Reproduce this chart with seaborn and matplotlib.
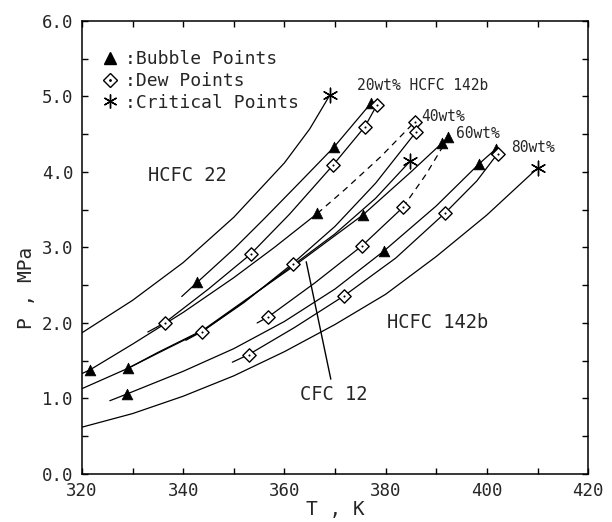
import matplotlib
matplotlib.use("Agg")
import matplotlib.pyplot as plt
from matplotlib.lines import Line2D
import seaborn as sns

# vapour pressure curves (T in K, P in MPa)
hcfc22_T = [320, 330, 340, 350, 360, 365, 369.0]
hcfc22_P = [1.87, 2.30, 2.80, 3.40, 4.12, 4.57, 5.02]
cfc12_T = [320, 329.1, 335, 344, 352, 362, 370, 378, 384.8]
cfc12_P = [1.13, 1.40, 1.60, 1.90, 2.28, 2.78, 3.18, 3.65, 4.14]
hcfc142b_T = [320, 330, 340, 350, 360, 370, 380, 390, 400, 410.0]
hcfc142b_P = [0.62, 0.80, 1.03, 1.30, 1.62, 1.98, 2.38, 2.88, 3.43, 4.05]

# HCFC 22 + HCFC 142b mixtures: bubble and dew curves
w20_bub_T = [339.7, 342.8, 350, 356, 363, 369.8, 377.1]
w20_bub_P = [2.35, 2.54, 2.98, 3.38, 3.86, 4.33, 4.91]
w20_dew_T = [333.0, 336.3, 345, 353.3, 361, 369.6, 375.9, 378.3]
w20_dew_P = [1.88, 2.00, 2.45, 2.91, 3.44, 4.09, 4.60, 4.89]
w40_bub_T = [320, 321.6, 330, 340, 350, 358, 366.5]
w40_bub_P = [1.33, 1.38, 1.72, 2.14, 2.60, 3.00, 3.45]
w40_bub_ext_T = [366.5, 372, 379, 385.7]
w40_bub_ext_P = [3.45, 3.77, 4.20, 4.66]
w40_dew_T = [340.5, 343.8, 352, 361.7, 370, 378, 386.0, 385.7]
w40_dew_P = [1.77, 1.89, 2.27, 2.79, 3.28, 3.85, 4.53, 4.66]
w60_bub_T = [329.1, 335, 344, 352, 362, 375.5, 385, 391.1, 392.4]
w60_bub_P = [1.40, 1.61, 1.91, 2.29, 2.76, 3.43, 4.00, 4.38, 4.46]
w60_dew_T = [354.6, 356.8, 366, 375.3, 383.4]
w60_dew_P = [2.00, 2.08, 2.53, 3.02, 3.53]
w60_dew_ext_T = [383.4, 388, 392.4]
w60_dew_ext_P = [3.53, 3.97, 4.46]
w80_bub_T = [325.5, 328.9, 340, 350, 360, 370, 379.6, 390, 398.5, 401.7]
w80_bub_P = [0.97, 1.06, 1.36, 1.66, 2.02, 2.45, 2.95, 3.55, 4.11, 4.30]
w80_dew_T = [349.7, 352.9, 362, 371.8, 382, 391.8, 398, 402.1]
w80_dew_P = [1.48, 1.58, 1.94, 2.36, 2.86, 3.46, 3.88, 4.24]

# measured points
bubble_T = [321.6, 329.1, 328.9, 342.8, 366.5, 369.8, 377.1, 375.5, 379.6,
            391.1, 392.4, 398.5, 401.7]
bubble_P = [1.38, 1.40, 1.06, 2.54, 3.45, 4.33, 4.91, 3.43, 2.95,
            4.38, 4.46, 4.11, 4.30]
dew_T = [336.3, 343.8, 352.9, 356.8, 361.7, 371.8, 353.3, 369.6, 375.9,
         378.3, 385.7, 386.0, 375.3, 383.4, 391.8, 402.1]
dew_P = [2.00, 1.88, 1.58, 2.08, 2.78, 2.36, 2.91, 4.09, 4.60,
         4.89, 4.66, 4.53, 3.02, 3.53, 3.46, 4.24]
crit_T = [369.0, 384.8, 410.0]
crit_P = [5.02, 4.14, 4.05]

sns.set_theme(style="ticks")
plt.rcParams["font.family"] = ["DejaVu Sans Mono"]

fig = plt.figure(figsize=(6.12, 5.22), dpi=100)
ax = fig.add_axes([0.134, 0.092, 0.827, 0.868])

solid = [
    (hcfc22_T, hcfc22_P), (cfc12_T, cfc12_P), (hcfc142b_T, hcfc142b_P),
    (w20_bub_T, w20_bub_P), (w20_dew_T, w20_dew_P),
    (w40_bub_T, w40_bub_P), (w40_dew_T, w40_dew_P),
    (w60_bub_T, w60_bub_P), (w60_dew_T, w60_dew_P),
    (w80_bub_T, w80_bub_P), (w80_dew_T, w80_dew_P),
]
for t, p in solid:
    sns.lineplot(x=t, y=p, sort=False, estimator=None, color="black",
                 lw=0.9, ax=ax)
# extrapolated parts up to the critical point
for t, p in [(w40_bub_ext_T, w40_bub_ext_P), (w60_dew_ext_T, w60_dew_ext_P)]:
    sns.lineplot(x=t, y=p, sort=False, estimator=None, color="black",
                 lw=0.9, ax=ax, linestyle=(0, (5, 4)))

sns.scatterplot(x=bubble_T, y=bubble_P, marker="^", s=60, color="black",
                edgecolor="black", linewidth=0.5, zorder=4, ax=ax)
sns.scatterplot(x=dew_T, y=dew_P, marker="D", s=46, color="white",
                edgecolor="black", linewidth=1.0, zorder=4, ax=ax)
sns.scatterplot(x=dew_T, y=dew_P, marker=".", s=6, color="black",
                edgecolor="black", zorder=5, ax=ax)
ax.scatter(crit_T, crit_P, marker=(6, 2, 0), s=110, color="black",
           linewidths=1.0, zorder=4)

ax.set_xlim(320, 420)
ax.set_ylim(0, 6)
ax.set_xticks(range(320, 421, 20))
ax.set_xticks(range(330, 421, 20), minor=True)
ax.set_yticks([0, 1, 2, 3, 4, 5, 6])
ax.set_yticks([0.5, 1.5, 2.5, 3.5, 4.5, 5.5], minor=True)
ax.set_yticklabels([f"{v:.1f}" for v in range(7)])
ax.tick_params(which="both", direction="in", top=True, right=True,
               length=4, width=1, color="black", labelsize=12.5, pad=6)
for s in ax.spines.values():
    s.set_linewidth(1.1)
    s.set_color("black")

ax.set_xlabel("T , K", fontsize=14, labelpad=0)
ax.set_ylabel("P , MPa", fontsize=14)
ax.yaxis.set_label_coords(-0.09, 0.41)

ax.text(340.9, 3.95, "HCFC 22", fontsize=13.5, ha="center", va="center")
ax.text(390.3, 2.01, "HCFC 142b", fontsize=13.5, ha="center", va="center")
ax.annotate("CFC 12", xy=(364.3, 2.81), xytext=(369.8, 1.05),
            fontsize=13.5, ha="center", va="center",
            arrowprops=dict(arrowstyle="-", lw=1.0, color="black",
                            shrinkA=2, shrinkB=0))
ax.text(374.3, 5.14, "20wt% HCFC 142b", fontsize=10.5, ha="left", va="center")
ax.text(387.1, 4.73, "40wt%", fontsize=10.5, ha="left", va="center")
ax.text(393.8, 4.51, "60wt%", fontsize=10.5, ha="left", va="center")
ax.text(404.8, 4.32, "80wt%", fontsize=10.5, ha="left", va="center")

h_bub = Line2D([], [], marker="^", ls="none", color="black", ms=8)
h_dew = (Line2D([], [], marker="D", ls="none", mfc="white", mec="black", ms=7),
         Line2D([], [], marker=".", ls="none", color="black", ms=2))
h_crit = Line2D([], [], marker=(6, 2, 0), ls="none", color="black", ms=10)
ax.legend([h_bub, h_dew, h_crit],
          [":Bubble Points", ":Dew Points", ":Critical Points"],
          loc="upper left", bbox_to_anchor=(0.02, 0.955), frameon=False,
          fontsize=13, handlelength=1.0, handletextpad=0.3,
          labelspacing=0.2, borderpad=0)

fig.savefig("out.png", dpi=100)
